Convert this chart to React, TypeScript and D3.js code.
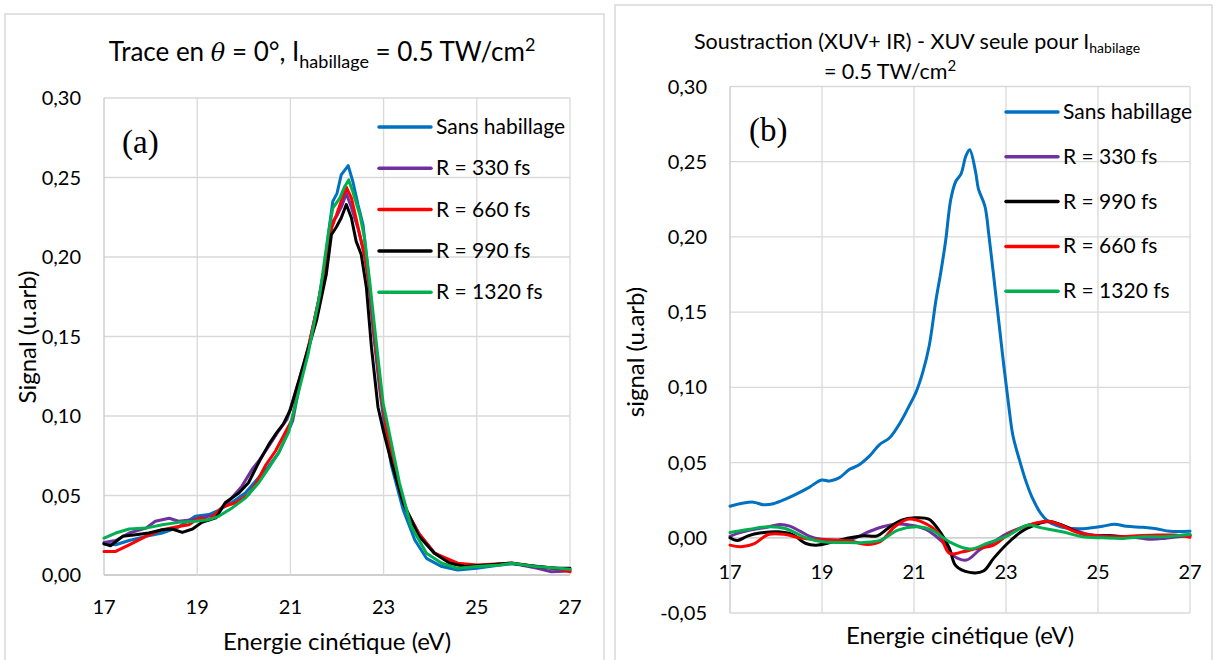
import React from "react";
import * as d3 from "d3";

type P = [number, number];

// ---------- Axis ticks ----------
const energyTicks = [17, 19, 21, 23, 25, 27];
const yTicksA = [0, 0.05, 0.1, 0.15, 0.2, 0.25, 0.3];
const yTicksB = [-0.05, 0, 0.05, 0.1, 0.15, 0.2, 0.25, 0.3];

// ---------- Panel (a) data: energy (eV), signal ----------
const blueA: P[] = [[17,0.0196],[17.25,0.019],[17.54,0.0217],[17.9,0.0243],[18.25,0.0264],[18.6,0.0302],[18.96,0.0369],[19.25,0.038],[19.46,0.0407],[19.75,0.0458],[20.04,0.0517],[20.25,0.059],[20.54,0.0686],[20.75,0.077],[20.96,0.0907],[21.05,0.097],[21.2,0.12],[21.38,0.141],[21.56,0.166],[21.7,0.185],[21.84,0.22],[21.91,0.235],[22.0,0.24],[22.09,0.2517],[22.24,0.2575],[22.34,0.2475],[22.45,0.233],[22.56,0.22],[22.66,0.193],[22.77,0.156],[22.91,0.118],[23.0,0.098],[23.17,0.0686],[23.42,0.041],[23.67,0.022],[23.92,0.0105],[24.25,0.0053],[24.59,0.0032],[25.0,0.0042],[25.5,0.0063],[25.75,0.007],[26.25,0.0057],[26.75,0.0036],[27,0.0032]];
const purpleA: P[] = [[17,0.0205],[17.25,0.0217],[17.54,0.0264],[17.9,0.0295],[18.1,0.0338],[18.4,0.0357],[18.6,0.0338],[18.9,0.0348],[19.1,0.036],[19.4,0.038],[19.68,0.0464],[19.96,0.0559],[20.18,0.0665],[20.32,0.0717],[20.54,0.0812],[20.75,0.0907],[20.93,0.098],[21.2,0.124],[21.4,0.145],[21.6,0.172],[21.8,0.205],[21.9,0.222],[22.0,0.226],[22.1,0.232],[22.2,0.24],[22.3,0.232],[22.45,0.218],[22.6,0.2],[22.7,0.18],[22.8,0.15],[22.95,0.112],[23.1,0.085],[23.3,0.058],[23.5,0.04],[23.76,0.026],[24.09,0.014],[24.5,0.0074],[24.8,0.0055],[25.25,0.0063],[25.75,0.0074],[26.0,0.006],[26.3,0.0042],[26.6,0.002],[27,0.0025]];
const redA: P[] = [[17,0.0148],[17.25,0.0148],[17.54,0.019],[17.9,0.0243],[18.25,0.0285],[18.54,0.0302],[18.82,0.0316],[19.04,0.0359],[19.25,0.0344],[19.54,0.0428],[19.82,0.0454],[20.1,0.0506],[20.25,0.057],[20.46,0.0686],[20.68,0.078],[20.89,0.0897],[21.04,0.098],[21.2,0.122],[21.4,0.145],[21.6,0.172],[21.78,0.2],[21.88,0.218],[21.99,0.2266],[22.09,0.235],[22.2,0.244],[22.31,0.237],[22.49,0.214],[22.6,0.2],[22.7,0.182],[22.8,0.152],[22.95,0.112],[23.1,0.085],[23.3,0.058],[23.5,0.04],[23.76,0.026],[24.09,0.0137],[24.59,0.0074],[25.0,0.0063],[25.5,0.007],[25.75,0.0076],[26.25,0.0055],[26.75,0.004],[27,0.002]];
const blackA: P[] = [[17,0.0196],[17.14,0.0184],[17.4,0.0243],[17.68,0.0253],[17.96,0.0264],[18.25,0.0285],[18.46,0.0289],[18.68,0.0268],[18.9,0.0289],[19.1,0.0331],[19.4,0.0359],[19.6,0.0454],[19.9,0.0517],[20.1,0.058],[20.32,0.0707],[20.54,0.0823],[20.71,0.0897],[20.85,0.095],[21.0,0.104],[21.27,0.131],[21.56,0.16],[21.77,0.189],[21.88,0.214],[21.99,0.219],[22.09,0.2245],[22.2,0.233],[22.31,0.2245],[22.41,0.21],[22.52,0.2016],[22.63,0.181],[22.74,0.143],[22.88,0.1055],[23.0,0.09],[23.17,0.0707],[23.42,0.0454],[23.76,0.0243],[24.09,0.0137],[24.42,0.0074],[24.75,0.0053],[25.25,0.0063],[25.75,0.0074],[26.25,0.0053],[26.75,0.0042],[27,0.0042]];
const greenA: P[] = [[17,0.0232],[17.25,0.0264],[17.54,0.0289],[17.9,0.0295],[18.25,0.0316],[18.6,0.0331],[18.96,0.0338],[19.25,0.0348],[19.46,0.0369],[19.75,0.0422],[20.04,0.0485],[20.32,0.058],[20.54,0.0675],[20.75,0.077],[20.96,0.0897],[21.02,0.097],[21.38,0.139],[21.63,0.1765],[21.81,0.214],[21.91,0.2308],[22.06,0.237],[22.16,0.244],[22.25,0.2485],[22.34,0.241],[22.49,0.2266],[22.59,0.212],[22.7,0.185],[22.84,0.147],[22.99,0.108],[23.09,0.094],[23.34,0.058],[23.59,0.0306],[23.92,0.0137],[24.25,0.0074],[24.59,0.0042],[25,0.0053],[25.5,0.0063],[25.75,0.0074],[26.25,0.0053],[26.75,0.0042],[27,0.0036]];

// ---------- Panel (b) data ----------
const blueB: P[] = [[17,0.021],[17.5,0.0237],[17.72,0.022],[17.94,0.0226],[18.23,0.026],[18.44,0.029],[18.73,0.0337],[18.99,0.0384],[19.17,0.0377],[19.38,0.04],[19.6,0.0455],[19.78,0.048],[20.03,0.0543],[20.25,0.062],[20.47,0.0665],[20.72,0.0776],[20.9,0.088],[21.04,0.0965],[21.19,0.11],[21.33,0.1275],[21.48,0.1585],[21.58,0.176],[21.69,0.198],[21.8,0.225],[21.91,0.237],[22.02,0.2417],[22.13,0.254],[22.21,0.258],[22.34,0.243],[22.4,0.232],[22.54,0.2206],[22.63,0.2007],[22.78,0.161],[22.92,0.123],[23.06,0.0876],[23.15,0.068],[23.29,0.052],[23.44,0.037],[23.58,0.026],[23.76,0.016],[23.91,0.011],[24.09,0.0083],[24.31,0.0065],[24.6,0.006],[24.82,0.0065],[25.1,0.0076],[25.36,0.009],[25.62,0.0076],[25.98,0.007],[26.27,0.006],[26.56,0.0043],[27,0.0043]];
const purpleB: P[] = [[17,0.001],[17.2,0.0033],[17.5,0.0055],[17.8,0.007],[18.08,0.0089],[18.3,0.0078],[18.52,0.0044],[18.73,0.001],[19,-0.001],[19.3,-0.0015],[19.67,-0.0007],[19.96,0.0033],[20.25,0.0067],[20.54,0.0089],[20.83,0.0089],[21.04,0.0078],[21.26,0.0055],[21.48,0.001],[21.7,-0.0055],[21.84,-0.0115],[22.14,-0.0148],[22.43,-0.008],[22.73,-0.0027],[23.03,0.0029],[23.32,0.0066],[23.62,0.0095],[23.92,0.0106],[24.2,0.0084],[24.5,0.0051],[24.8,0.0022],[25.25,0.0013],[25.7,0.0007],[26.15,-0.0009],[26.44,-0.0004],[26.74,0.0007],[27,0.0013]];
const blackB: P[] = [[17,0],[17.16,-0.0018],[17.39,0.0013],[17.68,0.0033],[18.05,0.004],[18.35,0.0022],[18.65,-0.0038],[18.87,-0.0049],[19.24,-0.0027],[19.61,0],[19.91,0.0013],[20.2,0.0013],[20.43,0.0062],[20.73,0.0117],[21.02,0.0133],[21.32,0.0124],[21.54,0.0051],[21.77,-0.0071],[21.91,-0.0186],[22.21,-0.023],[22.51,-0.0221],[22.73,-0.0137],[23.03,-0.0038],[23.33,0.004],[23.62,0.0084],[23.92,0.011],[24.22,0.0084],[24.51,0.0044],[24.81,0.0013],[25.25,0.0013],[25.7,0.0004],[26.15,0.0013],[26.6,0.0013],[27,0.0018]];
const redB: P[] = [[17,-0.0049],[17.24,-0.006],[17.53,-0.0038],[17.83,0.0022],[18.2,0.0022],[18.5,0],[18.8,-0.0009],[19.17,-0.0015],[19.61,-0.0022],[19.98,-0.0044],[20.28,-0.0022],[20.58,0.0073],[20.88,0.0124],[21.17,0.0106],[21.54,0.0029],[21.77,-0.0104],[22.06,-0.0093],[22.36,-0.0071],[22.73,-0.0049],[23.03,0.0018],[23.33,0.0066],[23.62,0.0095],[23.92,0.011],[24.22,0.008],[24.51,0.004],[24.96,0.0013],[25.4,0.0007],[25.85,0.0013],[26.3,0.0018],[26.66,0.0018],[27,0.0004]];
const greenB: P[] = [[17,0.0035],[17.39,0.0055],[17.83,0.0073],[18.2,0.0062],[18.65,0],[19.02,-0.0027],[19.46,-0.0031],[19.91,-0.0031],[20.28,-0.0015],[20.65,0.0051],[21.1,0.0073],[21.39,0.0051],[21.77,-0.0027],[22.21,-0.0075],[22.58,-0.0038],[23.03,0.0013],[23.47,0.0084],[23.77,0.0066],[24.22,0.004],[24.66,0.0007],[25.1,0],[25.55,-0.0004],[26,0.0007],[26.44,0.0007],[27,0.0022]];

const BLUE = "#0070C0";
const PURPLE = "#7030A0";
const RED = "#FF0000";
const BLACK = "#000000";
const GREEN = "#00B050";

const seriesA = [
  { name: "Sans habillage", color: BLUE, data: blueA },
  { name: "R = 330 fs", color: PURPLE, data: purpleA },
  { name: "R = 660 fs", color: RED, data: redA },
  { name: "R = 990 fs", color: BLACK, data: blackA },
  { name: "R = 1320 fs", color: GREEN, data: greenA },
];
const seriesB = [
  { name: "Sans habillage", color: BLUE, data: blueB },
  { name: "R = 330 fs", color: PURPLE, data: purpleB },
  { name: "R = 990 fs", color: BLACK, data: blackB },
  { name: "R = 660 fs", color: RED, data: redB },
  { name: "R = 1320 fs", color: GREEN, data: greenB },
];

const FONT = "Lato, 'Open Sans', sans-serif";
const fmt = (v: number) => d3.format(".2f")(v).replace(".", ",").replace("−", "-");

type PanelProps = {
  series: { name: string; color: string; data: P[] }[];
  xr: [number, number];
  yr: [number, number];
  ydom: [number, number];
  yTicks: number[];
  yLabelX: number;
  xLabelY: number;
  xTitle: [number, number];
  yTitle: [number, number, string];
  legend: { x: number; y0: number; dy: number };
  curve: d3.CurveFactory;
  tag: [number, number, string];
};

function Panel(p: PanelProps) {
  const x = d3.scaleLinear().domain([17, 27]).range(p.xr);
  const y = d3.scaleLinear().domain(p.ydom).range(p.yr);
  const line = d3
    .line<P>()
    .x((d) => x(d[0]))
    .y((d) => y(d[1]))
    .curve(p.curve);
  return (
    <g>
      {p.yTicks.map((t) => (
        <line key={"h" + t} x1={p.xr[0]} x2={p.xr[1]} y1={y(t)} y2={y(t)} stroke={t === 0 ? "#bfbfbf" : "#d9d9d9"} strokeWidth={1.3} />
      ))}
      {energyTicks.map((t) => (
        <line key={"v" + t} x1={x(t)} x2={x(t)} y1={p.yr[1]} y2={p.yr[0]} stroke={t === 17 ? "#c8c8c8" : "#d9d9d9"} strokeWidth={1.3} />
      ))}
      {p.yTicks.map((t) => (
        <text key={"yl" + t} x={p.yLabelX} y={y(t) + 7} textAnchor="end" fontSize={20} fontFamily={FONT} fill="#000">
          {fmt(t)}
        </text>
      ))}
      {energyTicks.map((t) => (
        <text key={"xl" + t} x={x(t)} y={p.xLabelY} textAnchor="middle" fontSize={20} fontFamily={FONT} fill="#000">
          {t}
        </text>
      ))}
      {p.series.map((s) => (
        <path key={s.name} d={line(s.data) || ""} fill="none" stroke={s.color} strokeWidth={3} strokeLinejoin="round" strokeLinecap="round" />
      ))}
      {p.series.map((s, i) => (
        <g key={"lg" + s.name}>
          <line x1={p.legend.x} x2={p.legend.x + 52} y1={p.legend.y0 + i * p.legend.dy} y2={p.legend.y0 + i * p.legend.dy} stroke={s.color} strokeWidth={3.5} strokeLinecap="round" />
          <text x={p.legend.x + 57} y={p.legend.y0 + i * p.legend.dy + 7} fontSize={21} fontFamily={FONT} fill="#000">
            {s.name}
          </text>
        </g>
      ))}
      <text x={p.xTitle[0]} y={p.xTitle[1]} textAnchor="middle" fontSize={24} fontFamily={FONT} fill="#000">
        Energie cinétique (eV)
      </text>
      <text transform={`translate(${p.yTitle[0]},${p.yTitle[1]}) rotate(-90)`} textAnchor="middle" fontSize={24} fontFamily={FONT} fill="#000">
        {p.yTitle[2]}
      </text>
      <text x={p.tag[0]} y={p.tag[1]} fontSize={33} fontFamily="'Liberation Serif', 'Times New Roman', serif" fill="#000">
        {p.tag[2]}
      </text>
    </g>
  );
}

export default function App() {
  return (
    <svg width={1216} height={660} style={{ position: "absolute", left: 0, top: 0, background: "#fff" }}>
      <rect x={5} y={14} width={599} height={680} fill="#fff" stroke="#d9d9d9" strokeWidth={1.5} />
      <rect x={615} y={5} width={597} height={690} fill="#fff" stroke="#d9d9d9" strokeWidth={1.5} />
      <text x={322} y={61} textAnchor="middle" fontSize={26} fontFamily={FONT} fill="#000">
        Trace en{" "}
        <tspan fontFamily="'DejaVu Serif', serif" fontStyle="italic" fontSize={24}>θ</tspan>
        {" = 0°, I"}
        <tspan dy={7} fontSize={18}>habillage</tspan>
        <tspan dy={-7}>{" = 0.5 TW/cm"}</tspan>
        <tspan dy={-10} fontSize={18}>2</tspan>
      </text>
      <text x={917} y={49} textAnchor="middle" fontSize={21.5} fontFamily={FONT} fill="#000">
        {"Soustraction (XUV+ IR) - XUV seule pour I"}
        <tspan dy={4} fontSize={14}>habilage</tspan>
      </text>
      <text x={890} y={79} textAnchor="middle" fontSize={21.5} fontFamily={FONT} fill="#000">
        {"= 0.5 TW/cm"}
        <tspan dy={-8} fontSize={15}>2</tspan>
      </text>
      <Panel
        series={seriesA}
        xr={[104, 570]}
        yr={[575, 98]}
        ydom={[0, 0.3]}
        yTicks={yTicksA}
        yLabelX={81}
        xLabelY={614}
        xTitle={[337, 650]}
        yTitle={[36, 337, "Signal (u.arb)"]}
        legend={{ x: 379, y0: 127, dy: 41.3 }}
        curve={d3.curveLinear}
        tag={[122, 153, "(a)"]}
      />
      <Panel
        series={seriesB}
        xr={[730, 1190]}
        yr={[613, 86.5]}
        ydom={[-0.05, 0.3]}
        yTicks={yTicksB}
        yLabelX={707}
        xLabelY={579}
        xTitle={[960, 644]}
        yTitle={[644, 352, "signal (u.arb)"]}
        legend={{ x: 1006, y0: 112, dy: 44.8 }}
        curve={d3.curveCatmullRom.alpha(0.5)}
        tag={[749, 141, "(b)"]}
      />
    </svg>
  );
}
